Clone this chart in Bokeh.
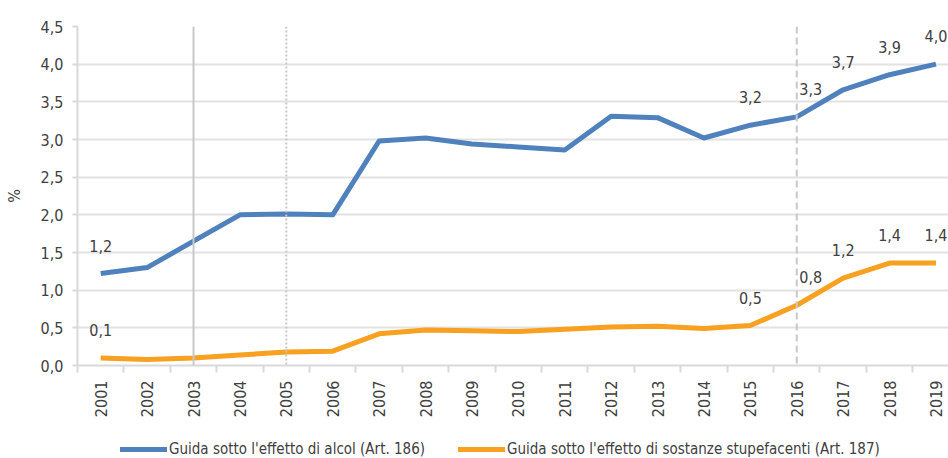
from bokeh.plotting import figure
from bokeh.layouts import column
from bokeh.models import (ColumnDataSource, FixedTicker, Span, Legend, LegendItem)
from bokeh.embed import file_html
from bokeh.resources import INLINE
from bokeh.core.properties import value

# Share of offences (%) by year
years = list(range(2001, 2020))
alcol = [1.22, 1.30, 1.65, 2.00, 2.01, 2.00, 2.98, 3.02, 2.94, 2.90,
         2.86, 3.31, 3.29, 3.02, 3.19, 3.30, 3.66, 3.86, 4.00]
stupefacenti = [0.10, 0.08, 0.10, 0.14, 0.18, 0.19, 0.42, 0.47, 0.46, 0.45,
                0.48, 0.51, 0.52, 0.49, 0.53, 0.80, 1.16, 1.36, 1.36]

name_alcol = "Guida sotto l'effetto di alcol (Art. 186)"
name_stup = "Guida sotto l'effetto di sostanze stupefacenti (Art. 187)"

labelled_years = [2001, 2015, 2016, 2017, 2018, 2019]
y_ticks = [0.0, 0.5, 1.0, 1.5, 2.0, 2.5, 3.0, 3.5, 4.0, 4.5]

FONT = "'DejaVu Sans Condensed', Lato, sans-serif"
TXT = "#404040"
GRID = "#E2E2E2"
BLUE = "#4F81BD"
ORANGE = "#F8A01F"


def fmt(v):
    return f"{v:.1f}".replace(".", ",")


p = figure(width=948, height=420, output_backend="svg", toolbar_location=None,
           x_range=(2000.5, 2019.27), y_range=(0, 4.5),
           min_border_left=77, min_border_right=0, min_border_top=26,
           min_border_bottom=54)
p.outline_line_color = None

# reference lines
p.add_layout(Span(location=2003, dimension="height", line_color="#C8C8C8", line_width=2))
p.add_layout(Span(location=2005, dimension="height", line_color="#C8C8C8", line_width=2,
                  line_dash="2 2"))
p.add_layout(Span(location=2016, dimension="height", line_color="#C8C8C8", line_width=2,
                  line_dash="7 4"))

p.line(years, alcol, line_color=BLUE, line_width=5, line_join="round")
p.line(years, stupefacenti, line_color=ORANGE, line_width=5, line_join="round")

# value labels
lab_x, lab_y, lab_t, lab_dx = [], [], [], []
for series in (alcol, stupefacenti):
    for yr in labelled_years:
        v = series[years.index(yr)]
        lab_x.append(yr)
        lab_y.append(v)
        lab_t.append(fmt(v))
        lab_dx.append(14 if yr == 2016 else 0)
src = ColumnDataSource(dict(x=lab_x, y=lab_y, t=lab_t, dx=lab_dx))
p.text(x="x", y="y", text="t", source=src, x_offset="dx", y_offset=-28,
       text_align="center", text_baseline="middle", text_color=TXT,
       text_font=value(FONT), text_font_size="16px")

# axes
p.xaxis.ticker = FixedTicker(ticks=years, minor_ticks=[y - 0.5 for y in years] + [2019.5])
p.xaxis.major_label_orientation = 1.5708
p.xaxis.major_tick_line_color = None
p.xaxis.minor_tick_line_color = "#D9D9D9"
p.xaxis.minor_tick_line_width = 2
p.xaxis.minor_tick_out = 7
p.xaxis.minor_tick_in = 0
p.xaxis.major_label_standoff = 8
p.xaxis.axis_line_color = "#D9D9D9"
p.xaxis.axis_line_width = 2

p.yaxis.ticker = FixedTicker(ticks=y_ticks)
p.yaxis.major_label_overrides = {t: fmt(t) for t in y_ticks}
p.yaxis.minor_tick_line_color = None
p.yaxis.major_tick_line_color = "#D9D9D9"
p.yaxis.major_tick_line_width = 2
p.yaxis.major_tick_out = 5
p.yaxis.major_tick_in = 0
p.yaxis.major_label_standoff = 9
p.yaxis.axis_line_color = "#D9D9D9"
p.yaxis.axis_line_width = 2
p.yaxis.axis_label = "%"
p.yaxis.axis_label_standoff = 14
p.yaxis.axis_label_text_font_style = "normal"

for ax in (p.xaxis, p.yaxis):
    ax.major_label_text_font = FONT
    ax.major_label_text_font_size = "16px"
    ax.major_label_text_color = TXT
    ax.axis_label_text_font = FONT
    ax.axis_label_text_font_size = "16px"
    ax.axis_label_text_color = TXT

p.xgrid.grid_line_color = None
p.ygrid.grid_line_color = GRID
p.ygrid.grid_line_width = 2

# legend strip underneath the chart (its frame lines up with the chart frame)
leg = figure(width=948, height=38, output_backend="svg", toolbar_location=None,
             x_range=(0, 1), y_range=(0, 1), min_border=0)
leg.axis.visible = False
leg.grid.visible = False
leg.outline_line_color = None
k1 = leg.line([-5, -4], [-5, -4], line_color=BLUE, line_width=5, line_cap="round")
k2 = leg.line([-5, -4], [-5, -4], line_color=ORANGE, line_width=5, line_cap="round")
legend = Legend(items=[LegendItem(label=name_alcol, renderers=[k1]),
                       LegendItem(label=name_stup, renderers=[k2])],
                orientation="horizontal", location=(43, 0),
                glyph_width=47, glyph_height=16, label_standoff=2, spacing=33,
                padding=0, margin=0, border_line_color=None,
                background_fill_alpha=0,
                label_text_font=FONT, label_text_font_size="15px",
                label_text_color=TXT)
leg.add_layout(legend)

open("out.html", "w").write(file_html(column(p, leg, spacing=0), INLINE))
